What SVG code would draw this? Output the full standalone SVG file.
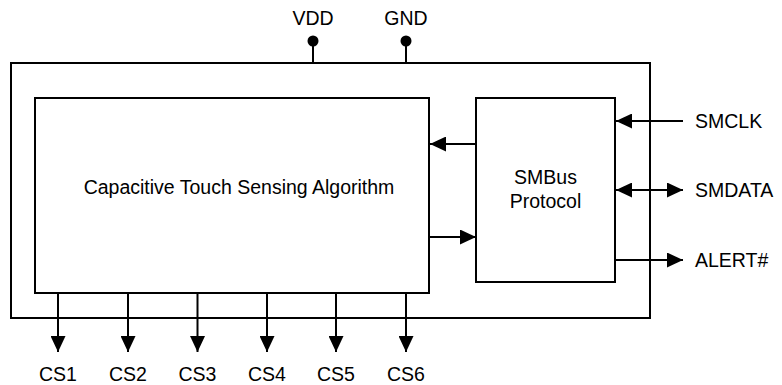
<svg xmlns="http://www.w3.org/2000/svg" width="782" height="385" viewBox="0 0 782 385">
<style>
.box{fill:#fff;stroke:#000;stroke-width:2}
.ln{fill:none;stroke:#000;stroke-width:2}
.t{font-family:"Liberation Sans",Arial,sans-serif;font-size:19.5px;fill:#000}
.m{text-anchor:middle}
</style>
<defs>
<marker id="ah" markerUnits="userSpaceOnUse" markerWidth="17" markerHeight="15" refX="16" refY="7.5" orient="auto-start-reverse">
<path d="M0,0 L16,7.5 L0,15 z" fill="#000"/>
</marker>
</defs>
<g id="chip">
<rect class="box" x="11" y="63" width="639" height="255"/>
</g>
<g id="algorithm">
<rect class="box" x="35" y="98" width="394" height="195"/>
<text class="t m" x="239" y="194">Capacitive Touch Sensing Algorithm</text>
</g>
<g id="smbus">
<rect class="box" x="476" y="98" width="139" height="184"/>
<text class="t m" x="545.5" y="184">SMBus</text>
<text class="t m" x="545.5" y="208">Protocol</text>
</g>
<g id="vdd">
<circle cx="313" cy="41" r="5.5" fill="#000"/>
<text class="t m" x="313" y="25">VDD</text>
</g>
<g id="gnd">
<circle cx="406" cy="41" r="5.5" fill="#000"/>
<text class="t m" x="406" y="25">GND</text>
</g>
<g id="labels">
<text class="t" x="695" y="128">SMCLK</text>
<text class="t" x="695" y="197">SMDATA</text>
<text class="t" x="695" y="267">ALERT#</text>
<text class="t m" x="58" y="381">CS1</text>
<text class="t m" x="128" y="381">CS2</text>
<text class="t m" x="197.5" y="381">CS3</text>
<text class="t m" x="267" y="381">CS4</text>
<text class="t m" x="336" y="381">CS5</text>
<text class="t m" x="406" y="381">CS6</text>
</g>
<g id="connectors">
<line class="ln" x1="313" y1="41" x2="313" y2="63"/>
<line class="ln" x1="406" y1="41" x2="406" y2="63"/>
<line class="ln" x1="476" y1="144" x2="430" y2="144" marker-end="url(#ah)"/>
<line class="ln" x1="430" y1="237" x2="476" y2="237" marker-end="url(#ah)"/>
<line class="ln" x1="683" y1="121" x2="616" y2="121" marker-end="url(#ah)"/>
<line class="ln" x1="616" y1="190" x2="683" y2="190" marker-start="url(#ah)" marker-end="url(#ah)"/>
<line class="ln" x1="615" y1="260" x2="683" y2="260" marker-end="url(#ah)"/>
<line class="ln" x1="58" y1="293" x2="58" y2="352" marker-end="url(#ah)"/>
<line class="ln" x1="128" y1="293" x2="128" y2="352" marker-end="url(#ah)"/>
<line class="ln" x1="197.5" y1="293" x2="197.5" y2="352" marker-end="url(#ah)"/>
<line class="ln" x1="267" y1="293" x2="267" y2="352" marker-end="url(#ah)"/>
<line class="ln" x1="336" y1="293" x2="336" y2="352" marker-end="url(#ah)"/>
<line class="ln" x1="406" y1="293" x2="406" y2="352" marker-end="url(#ah)"/>
</g>
</svg>
